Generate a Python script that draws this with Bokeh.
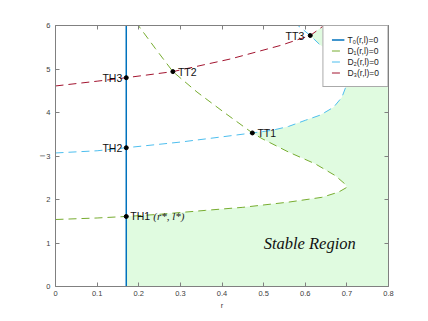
from bokeh.plotting import figure
from bokeh.models import (LinearAxis, FixedTicker, Range1d, Legend, LegendItem,
                          Label, CustomJSTickFormatter)
from bokeh.embed import file_html
from bokeh.resources import INLINE

# ---------------- data ----------------
x_ticks = [0, 0.1, 0.2, 0.3, 0.4, 0.5, 0.6, 0.7, 0.8]
x_tick_labels = ["0", "0.1", "0.2", "0.3", "0.4", "0.5", "0.6", "0.7", "0.8"]
y_ticks = [0, 1, 2, 3, 4, 5, 6]
x_min, x_max = 0.0, 0.8
y_min, y_max = 0.0, 6.0

r_star = 0.17  # T0(r,l)=0 : vertical line r = r*

# D1(r,l)=0  (green C-shaped curve)
d1_r = [0.0, 0.10, 0.17, 0.25, 0.36, 0.45, 0.56, 0.64, 0.68, 0.700, 0.695,
        0.672, 0.624, 0.56, 0.496, 0.473, 0.404, 0.34, 0.282, 0.24, 0.199]
d1_y = [1.54, 1.575, 1.61, 1.66, 1.75, 1.82, 1.94, 2.05, 2.17, 2.28, 2.36,
        2.55, 2.82, 3.09, 3.40, 3.53, 4.01, 4.47, 4.94, 5.47, 6.0]

# D2(r,l)=0  (cyan C-shaped curve)
d2_r = [0.0, 0.10, 0.17, 0.30, 0.40, 0.473, 0.52, 0.56, 0.60, 0.636, 0.668,
        0.688, 0.698, 0.703, 0.695, 0.672, 0.636, 0.612, 0.58]
d2_y = [3.07, 3.12, 3.19, 3.32, 3.44, 3.53, 3.59, 3.68, 3.82, 3.94, 4.12,
        4.35, 4.60, 4.85, 5.10, 5.35, 5.55, 5.77, 6.02]

# D3(r,l)=0  (red curve)
d3_r = [0.0, 0.10, 0.17, 0.282, 0.42, 0.54, 0.612, 0.645]
d3_y = [4.61, 4.72, 4.80, 4.94, 5.23, 5.54, 5.77, 6.0]

# intersection points
pt_names = ["TH1", "TH2", "TH3", "TT1", "TT2", "TT3"]
pt_r = [0.17, 0.17, 0.17, 0.473, 0.282, 0.612]
pt_y = [1.61, 3.19, 4.80, 3.53, 4.94, 5.77]

legend_labels = ["T\u2080(r,l)=0", "D\u2081(r,l)=0", "D\u2082(r,l)=0", "D\u2083(r,l)=0"]
region_text = "Stable Region"
region_pos = (0.50, 1.0)

# ---------------- styles ----------------
C_T0 = "#0072BD"
C_D1 = "#77AC30"
C_D2 = "#4DBEEE"
C_D3 = "#A2142F"
C_FILL = "#E0FBE0"
AX = "#808080"
TXT = "#404040"
FONT = "Liberation Sans"
DASH = "8 5"

p = figure(frame_width=333, frame_height=261,
           x_range=Range1d(x_min, x_max), y_range=Range1d(y_min, y_max),
           output_backend="svg", toolbar_location=None,
           min_border_left=55, min_border_right=32,
           min_border_top=25, min_border_bottom=30)
p.xgrid.visible = False
p.ygrid.visible = False
p.outline_line_color = None
p.background_fill_color = "white"
p.border_fill_color = "white"

# stable region: green rectangle right of r*, then unstable parts in white
p.quad(left=[r_star], right=[x_max], bottom=[y_min], top=[y_max],
       fill_color=C_FILL, line_color=None)
p.patch(d1_r + [x_min], d1_y + [y_max], fill_color="white", line_color=None)
p.patch(d2_r + [x_min], d2_y + [y_max], fill_color="white", line_color=None)
p.patch(d3_r + [x_min], d3_y + [y_max], fill_color="white", line_color=None)

# curves
l0 = p.line([r_star, r_star], [y_min, y_max], line_color=C_T0, line_width=1.5)
l1 = p.line(d1_r, d1_y, line_color=C_D1, line_width=1, line_dash=DASH)
l2 = p.line(d2_r, d2_y, line_color=C_D2, line_width=1, line_dash=DASH)
l3 = p.line(d3_r, d3_y, line_color=C_D3, line_width=1, line_dash=DASH)

p.scatter(pt_r, pt_y, size=4, color="black")

# point labels
offsets = {"TH1": (4, "left"), "TH2": (-4, "right"), "TH3": (-4, "right"),
           "TT1": (5, "left"), "TT2": (5, "left"), "TT3": (-6, "right")}
for name, rx, ry in zip(pt_names, pt_r, pt_y):
    dx, al = offsets[name]
    p.add_layout(Label(x=rx, y=ry, text=name, x_offset=dx, text_align=al,
                       text_baseline="middle", text_font=FONT,
                       text_font_size="10.5px", text_color="#111111"))
p.add_layout(Label(x=pt_r[0], y=pt_y[0], text="(r*, l*)", x_offset=27,
                   text_align="left", text_baseline="middle",
                   text_font="Liberation Serif", text_font_style="italic",
                   text_font_size="11px", text_color="#222222"))

p.add_layout(Label(x=region_pos[0], y=region_pos[1], text=region_text,
                   text_align="left", text_baseline="middle",
                   text_font="Liberation Serif", text_font_style="italic",
                   text_font_size="16.5px", text_color="#111111"))

# axes
def style_axis(ax):
    ax.axis_line_color = AX
    ax.major_tick_line_color = AX
    ax.major_tick_in = 4
    ax.major_tick_out = 0
    ax.minor_tick_line_color = None
    ax.major_label_text_font = FONT
    ax.major_label_text_font_size = "7.5px"
    ax.major_label_text_color = TXT
    ax.axis_label_text_font = FONT
    ax.axis_label_text_font_size = "7.5px"
    ax.axis_label_text_font_style = "normal"
    ax.axis_label_text_color = TXT

p.xaxis.ticker = FixedTicker(ticks=x_ticks)
p.xaxis.major_label_overrides = {t: s for t, s in zip(x_ticks, x_tick_labels)}
p.xaxis.axis_label = "r"
p.xaxis.axis_label_standoff = 2
p.xaxis.major_label_standoff = 4
p.yaxis.ticker = FixedTicker(ticks=y_ticks)
p.yaxis.axis_label = "l"
p.yaxis.axis_label_standoff = -4
p.yaxis.major_label_standoff = 5
style_axis(p.xaxis[0])
style_axis(p.yaxis[0])

blank = CustomJSTickFormatter(code="return ''")
top_ax = LinearAxis(ticker=FixedTicker(ticks=x_ticks), formatter=blank,
                    major_label_standoff=0)
right_ax = LinearAxis(ticker=FixedTicker(ticks=y_ticks), formatter=blank,
                      major_label_standoff=0)
style_axis(top_ax)
style_axis(right_ax)
p.add_layout(top_ax, "above")
p.add_layout(right_ax, "right")

legend = Legend(items=[LegendItem(label=legend_labels[0], renderers=[l0]),
                       LegendItem(label=legend_labels[1], renderers=[l1]),
                       LegendItem(label=legend_labels[2], renderers=[l2]),
                       LegendItem(label=legend_labels[3], renderers=[l3])],
                location="top_right", margin=0, padding=8, spacing=0,
                glyph_width=13, glyph_height=11, label_height=11,
                label_standoff=3, label_text_font=FONT,
                label_text_font_size="8.5px", label_text_color="#222222",
                border_line_color="#555555", border_line_width=1,
                background_fill_color="white", background_fill_alpha=1)
p.add_layout(legend)

open("out.html", "w").write(file_html(p, INLINE))
